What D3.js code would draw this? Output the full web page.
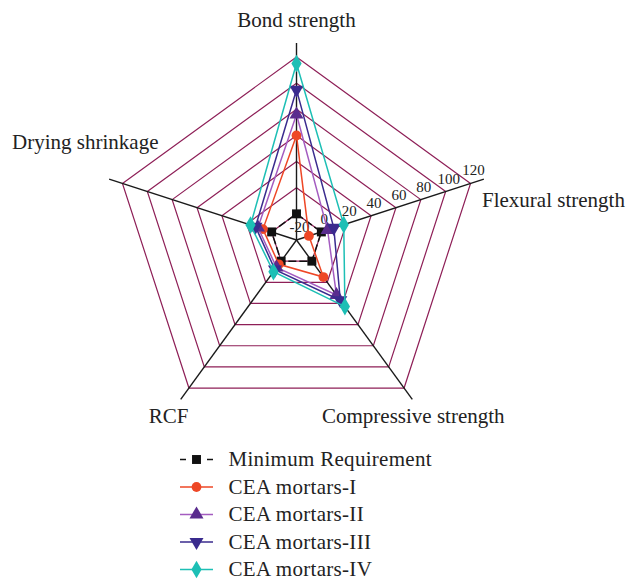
<!DOCTYPE html>
<html><head><meta charset="utf-8">
<script src="https://cdn.jsdelivr.net/npm/d3@7"></script>
<style>
html,body{margin:0;padding:0;background:#fff;}
svg{display:block;font-family:"Liberation Serif","DejaVu Serif",serif;}
</style></head>
<body><svg id="chart" width="627" height="582"></svg>
<script>
const axes = ["Bond strength","Flexural strength","Compressive strength","RCF","Drying shrinkage"];
const ticks = [-20,0,20,40,60,80,100,120];
const seriesNames = ["Minimum Requirement","CEA mortars-I","CEA mortars-II","CEA mortars-III","CEA mortars-IV"];
const minReq  = [0, 0, 0, 0, 0];
const ceaI    = [60, -10, 15, 3, 7];
const ceaII   = [76, 5, 32, 6, 11];
const ceaIII  = [95, 10, 37, 8, 13];
const ceaIV   = [115, 18, 43, 10, 17];

const lineColors   = ["#111111","#EE4726","#A45CC0","#3A2B8E","#1DBFB5"];
const markerColors = ["#111111","#EE4726","#5A2C8E","#3A2B8E","#1DBFB5"];
const markerTypes  = [d3.symbolSquare, d3.symbolCircle, d3.symbolTriangle, "down", d3.symbolDiamond];
const markerSizes  = [80, 75, 85, 85, 90];
const data = [minReq, ceaI, ceaII, ceaIII, ceaIV];

const svg = d3.select("#chart");
const cx = 296.5, cy = 240, R = 183, axisLen = 197;
const gridColor = "#8E1F57";

const r = d3.scaleLinear().domain([-20,120]).range([0,R]);
const ang = d3.scaleLinear().domain([0,axes.length]).range([-Math.PI/2, 1.5*Math.PI]);
const pt = (i, v) => [cx + r(v)*Math.cos(ang(i)), cy + r(v)*Math.sin(ang(i))];

// grid rings
const g = svg.append("g");
ticks.filter(t => t > -20).forEach(t => {
  g.append("path")
    .attr("d", d3.line()(axes.map((a,i) => pt(i,t))) + "Z")
    .attr("fill","none").attr("stroke",gridColor).attr("stroke-width",1.2);
});
// axis lines
axes.forEach((a,i) => {
  g.append("line")
    .attr("x1",cx).attr("y1",cy)
    .attr("x2",cx + axisLen*Math.cos(ang(i))).attr("y2",cy + axisLen*Math.sin(ang(i)))
    .attr("stroke","#1a1a1a").attr("stroke-width",1.4);
});
// tick labels along flexural axis
ticks.forEach(t => {
  const p = pt(1,t);
  g.append("text").attr("x",p[0]+3).attr("y",p[1]-8)
    .attr("text-anchor","middle").attr("font-size",15).attr("fill","#222")
    .text(t);
});
// axis labels
const labelPos = [
  {x:296.5, y:27, anchor:"middle"},
  {x:482, y:207, anchor:"start"},
  {x:322, y:423, anchor:"start"},
  {x:188.5, y:423, anchor:"end"},
  {x:158.5, y:149, anchor:"end"}
];
axes.forEach((a,i) => {
  svg.append("text").attr("x",labelPos[i].x).attr("y",labelPos[i].y)
    .attr("text-anchor",labelPos[i].anchor).attr("font-size",21).attr("fill","#222")
    .text(a);
});

function sym(k){
  if (markerTypes[k] === "down") return d3.symbol().type(d3.symbolTriangle).size(markerSizes[k])();
  return d3.symbol().type(markerTypes[k]).size(markerSizes[k])();
}
function drawMarker(sel, k, x, y){
  sel.append("path").attr("d", sym(k))
    .attr("transform", `translate(${x},${y})` + (markerTypes[k]==="down" ? " rotate(180)" : ""))
    .attr("fill", markerColors[k]);
}

// series
data.forEach((vals,k) => {
  const sg = svg.append("g");
  sg.append("path")
    .attr("d", d3.line()(vals.map((v,i) => pt(i,v))) + "Z")
    .attr("fill","none").attr("stroke",lineColors[k]).attr("stroke-width",1.5)
    .attr("stroke-dasharray", k===0 ? "8,3" : null);
  vals.forEach((v,i) => { const p = pt(i,v); drawMarker(sg,k,p[0],p[1]); });
});

// legend
const lg = svg.append("g");
seriesNames.forEach((n,k) => {
  const y = 459.5 + k*27.5;
  if (k===0) {
    lg.append("line").attr("x1",180).attr("x2",186).attr("y1",y).attr("y2",y).attr("stroke","#111").attr("stroke-width",1.5);
    lg.append("line").attr("x1",207).attr("x2",213).attr("y1",y).attr("y2",y).attr("stroke","#111").attr("stroke-width",1.5);
  } else {
    lg.append("line").attr("x1",180).attr("x2",213).attr("y1",y).attr("y2",y).attr("stroke",lineColors[k]).attr("stroke-width",1.5);
  }
  drawMarker(lg,k,196.5,y);
  lg.append("text").attr("x",228.5).attr("y",y+6.5).attr("font-size",21)
    .attr("letter-spacing",0.3).attr("fill","#222").text(n);
});
</script>
</body></html>
